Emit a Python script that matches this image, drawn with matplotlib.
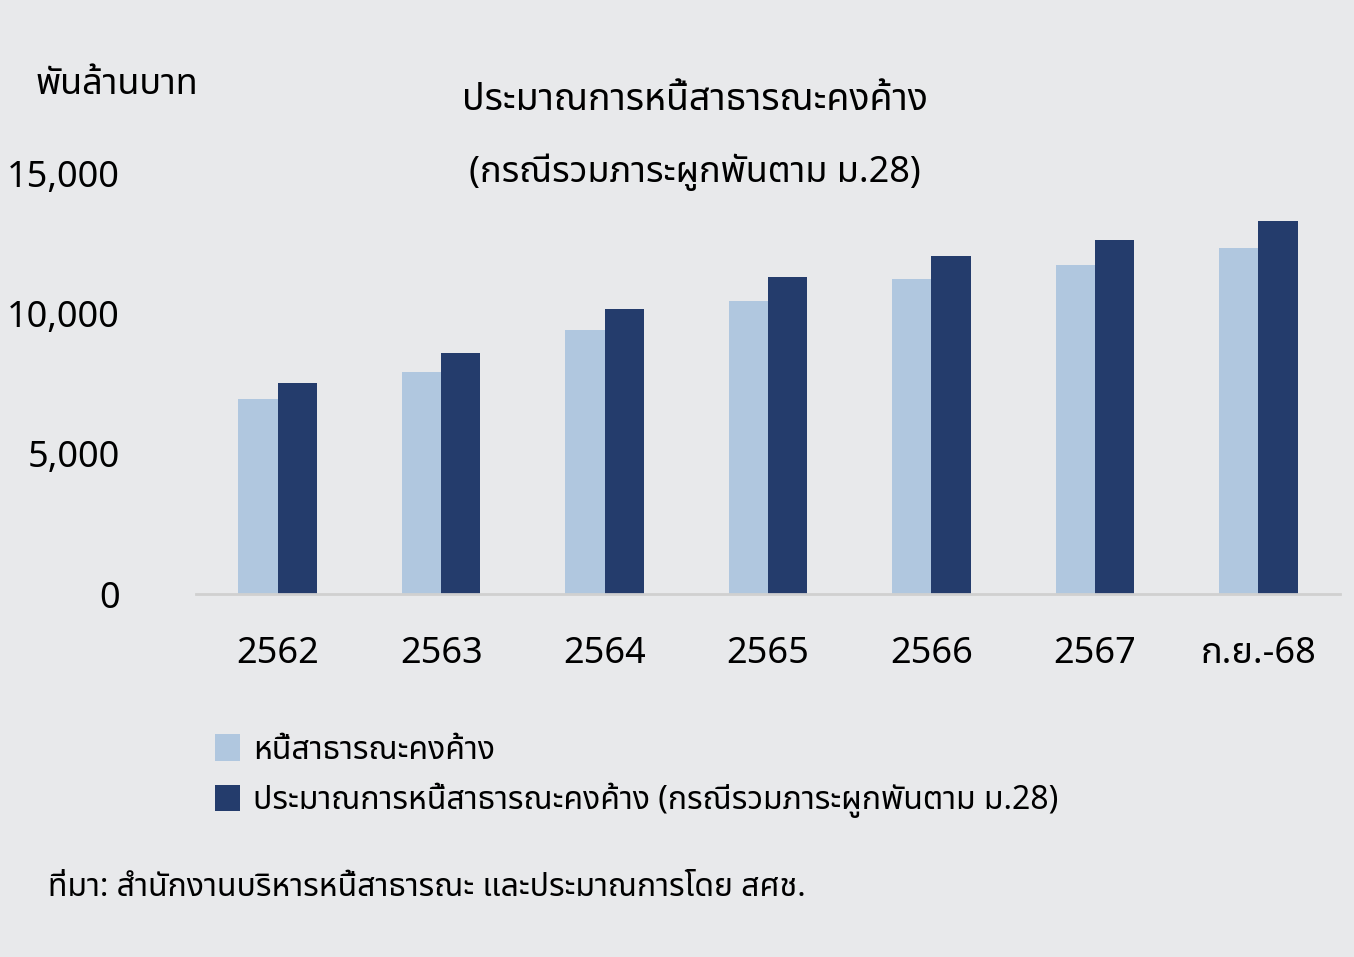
import matplotlib
matplotlib.use("Agg")
import matplotlib.pyplot as plt
import numpy as np
from matplotlib import font_manager as fm

names = {f.name for f in fm.fontManager.ttflist}
fams = [n for n in ['Noto Sans Thai', 'Noto Sans Thai Looped', 'Loma', 'Garuda', 'Tlwg Typo', 'Noto Sans', 'DejaVu Sans'] if n in names]
plt.rcParams['font.family'] = fams

categories = ['2562', '2563', '2564', '2565', '2566', '2567', 'ก.ย.-68']
debt = [6950, 7920, 9430, 10470, 11250, 11760, 12370]
debt_incl = [7530, 8600, 10180, 11330, 12080, 12650, 13330]
yticks = [0, 5000, 10000, 15000]
ytick_labels = ['0', '5,000', '10,000', '15,000']

bg = '#e8e9eb'
fig = plt.figure(figsize=(13.54, 9.57), dpi=100, facecolor=bg)
ax = fig.add_axes([196/1354, 1-594/957, 1144/1354, (594-174)/957 * 16000/15000], facecolor=bg)
ax.set_ylim(0, 16000)
x = np.arange(len(categories))
w = 0.24
ax.bar(x - w/2, debt, w, color='#b0c7df', label='หนี้สาธารณะคงค้าง')
ax.bar(x + w/2, debt_incl, w, color='#243c6c', label='ประมาณการหนี้สาธารณะคงค้าง (กรณีรวมภาระผูกพันตาม ม.28)')
ax.set_xlim(-0.5, len(categories) - 0.5)
ax.set_xticks(x)
ax.set_xticklabels(categories, fontsize=26)
ax.set_yticks(yticks)
ax.set_yticklabels(ytick_labels, fontsize=26)
ax.tick_params(length=0)
ax.tick_params(axis='x', pad=30)
ax.tick_params(axis='y', pad=55)
for s in ['top', 'right', 'left']:
    ax.spines[s].set_visible(False)
ax.spines['bottom'].set_color('#d0d0d0')
ax.spines['bottom'].set_linewidth(2)

fig.text(36/1354, 1-85/957, 'พันล้านบาท', fontsize=26, va='center')
fig.text(695/1354, 1-100/957, 'ประมาณการหนี้สาธารณะคงค้าง', fontsize=27, fontweight='bold', ha='center', va='center')
fig.text(695/1354, 1-172/957, '(กรณีรวมภาระผูกพันตาม ม.28)', fontsize=26, ha='center', va='center')
fig.legend(loc='upper left', bbox_to_anchor=(186/1354, 1-705/957), frameon=False, fontsize=23,
           handlelength=0.8, handleheight=0.9, labelspacing=0.5, handletextpad=0.4)
fig.text(48/1354, 1-888/957, 'ที่มา: สำนักงานบริหารหนี้สาธารณะ และประมาณการโดย สศช.', fontsize=23, va='center')
fig.savefig('out.png', dpi=100, facecolor=bg)
